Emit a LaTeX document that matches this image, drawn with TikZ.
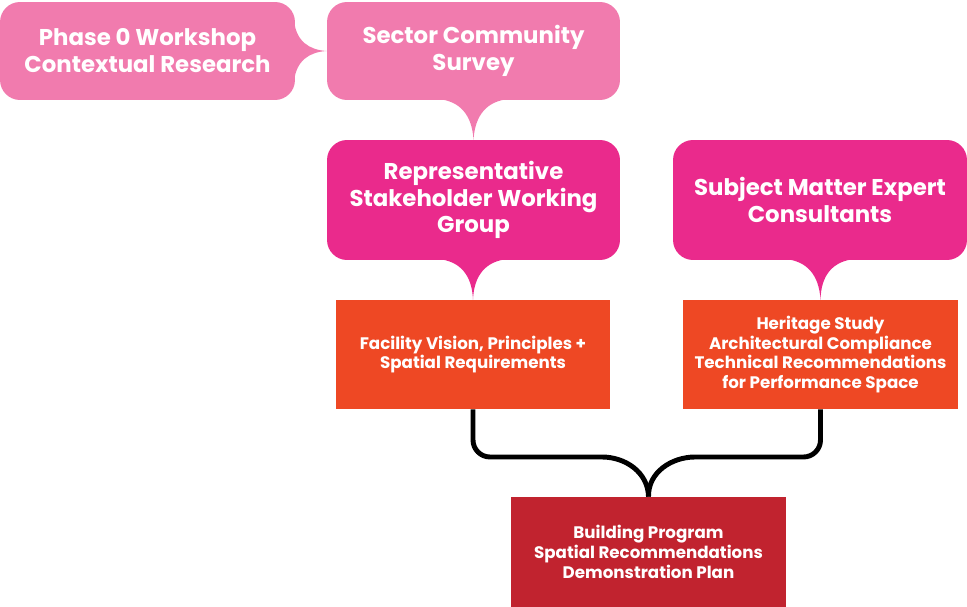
\documentclass[tikz,border=0pt]{standalone}
\usepackage{fontspec}
\setmainfont{Poppins}
\definecolor{softpink}{HTML}{F17BAE}
\definecolor{hotpink}{HTML}{EA2A8C}
\definecolor{flame}{HTML}{EE4824}
\definecolor{brick}{HTML}{C1232F}
\tikzset{
	bubble/.style={rounded corners=0.4cm, text=white, align=center, inner sep=0pt, font=\fontsize{13}{15.3}\selectfont\bfseries},
	card/.style={text=white, align=center, inner sep=0pt, font=\fontsize{9.5}{11.3}\selectfont\bfseries},
	link/.style={line width=2.8pt, black}
}
\begin{document}
\begin{tikzpicture}[x=0.02cm, y=-0.02cm]
			\useasboundingbox (0,0) rectangle (967,607);
			\node[bubble, fill=softpink, minimum width=5.9cm, minimum height=1.96cm] (phase) at (147.5,51) {Phase 0 Workshop\\Contextual Research};
			\node[bubble, fill=softpink, minimum width=5.86cm, minimum height=1.96cm] (survey) at (473.5,51) {Sector Community\\Survey};
			\node[bubble, fill=hotpink, minimum width=5.86cm, minimum height=2.4cm] (group) at (473.5,200) {Representative\\Stakeholder Working\\Group};
			\node[bubble, fill=hotpink, minimum width=5.88cm, minimum height=2.4cm] (experts) at (820,200) {Subject Matter Expert\\Consultants};
			\node[card, fill=flame, minimum width=5.48cm, minimum height=2.18cm] (vision) at (473,354.5) {Facility Vision, Principles +\\Spatial Requirements};
			\node[card, fill=flame, minimum width=5.5cm, minimum height=2.18cm] (heritage) at (820.5,354.5) {Heritage Study\\Architectural Compliance\\Technical Recommendations\\for Performance Space};
			\node[card, fill=brick, minimum width=5.5cm, minimum height=2.2cm] (program) at (648.5,552) {Building Program\\Spatial Recommendations\\Demonstration Plan};
			\fill[softpink] (294,20) .. controls (296,42) and (310,50) .. (survey.west) .. controls (310,52) and (296,60) .. (294,82) -- cycle;
			\fill[softpink] (438,99) .. controls (460,101) and (472,115) .. (group.north) .. controls (475,115) and (487,101) .. (509,99) -- cycle;
			\fill[hotpink] (438,259) .. controls (460,261) and (472,275) .. (vision.north) .. controls (474,275) and (486,261) .. (508,259) -- cycle;
			\fill[hotpink] (785,259) .. controls (807,261) and (819,275) .. (heritage.north) .. controls (821,275) and (833,261) .. (855,259) -- cycle;
			\draw[link, rounded corners=0.34cm] (vision.south) |- (585,457) .. controls (625,457) and (648,472) .. (program.north);
			\draw[link, rounded corners=0.34cm] (heritage.south) |- (712,457) .. controls (672,457) and (648,472) .. (program.north);
		\end{tikzpicture}
\end{document}
